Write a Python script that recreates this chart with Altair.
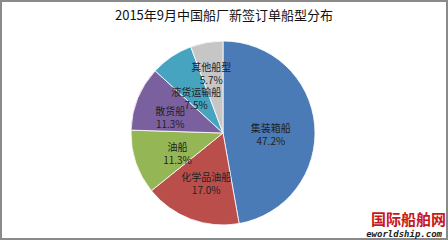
import altair as alt
import pandas as pd
import math

categories = ["集装箱船", "化学品油船", "油船", "散货船", "液货运输船", "其他船型"]
values = [47.2, 17.0, 11.3, 11.3, 7.5, 5.7]
colors = ["#4A7BB6", "#BA4E4B", "#95B655", "#7B60A0", "#46A4C0", "#C6C6C6"]
title_text = "2015年9月中国船厂新签订单船型分布"
wm_cn = "国际船舶网"
wm_en = "eworldship.com"

df = pd.DataFrame({
    "cat": categories,
    "val": values,
    "ord": list(range(len(categories))),
    "label": [f"{c}\n{v:.1f}%" for c, v in zip(categories, values)],
})

FONT = "Noto Sans CJK SC"
cx, cy = 223, 133

pie = alt.Chart(df).mark_arc(outerRadius=92, stroke="white", strokeWidth=0.8).encode(
    theta=alt.Theta("val:Q", stack=True),
    order=alt.Order("ord:Q"),
    x=alt.value(cx), y=alt.value(cy),
    color=alt.Color("cat:N", scale=alt.Scale(domain=categories, range=colors), legend=None),
)

labels = alt.Chart(df).transform_window(
    cum="sum(val)", sort=[alt.SortField("ord")], frame=[None, 0]
).transform_joinaggregate(
    total="sum(val)"
).transform_calculate(
    mid="(datum.cum - datum.val / 2) / datum.total",
    lr="datum.ord == 3 ? 57 : (datum.ord == 5 ? 66 : 48)",
).mark_text(font=FONT, fontSize=10, color="#222222",
            lineBreak="\n", lineHeight=13, baseline="middle").encode(
    x=alt.value(cx), y=alt.value(cy),
    theta=alt.Theta("mid:Q", stack=False, scale=alt.Scale(domain=[0, 1], range=[0, 2 * math.pi])),
    radius=alt.Radius("lr:Q", scale=None),
    text="label:N",
)

frame = alt.Chart(df).mark_rect(fill=None, stroke="#8a8a8a", strokeWidth=2).encode(
    x=alt.value(1), x2=alt.value(447), y=alt.value(1), y2=alt.value(239)
)

title = alt.Chart(pd.DataFrame({"t": [title_text]})).mark_text(
    font=FONT, fontSize=13, color="#111111", baseline="middle"
).encode(x=alt.value(224), y=alt.value(16), text="t:N")

wm1 = alt.Chart(pd.DataFrame({"t": [wm_cn]})).mark_text(
    font=FONT, fontSize=15, fontWeight="bold", color="#C8161D", align="right", baseline="middle"
).encode(x=alt.value(446), y=alt.value(220), text="t:N")

wm2 = alt.Chart(pd.DataFrame({"t": [wm_en]})).mark_text(
    font="DejaVu Sans Mono", fontSize=9, fontWeight="bold", fontStyle="italic",
    color="#222222", align="right", baseline="middle"
).encode(x=alt.value(442), y=alt.value(234), text="t:N")

chart = alt.layer(frame, pie, labels, title, wm1, wm2).resolve_scale(
    theta="independent"
).properties(
    width=448, height=240, padding=0, autosize=alt.AutoSizeParams(type="none"),
    background="white",
).configure_view(stroke=None)

chart.save("out.html", embed_options={"renderer": "svg", "actions": False})
